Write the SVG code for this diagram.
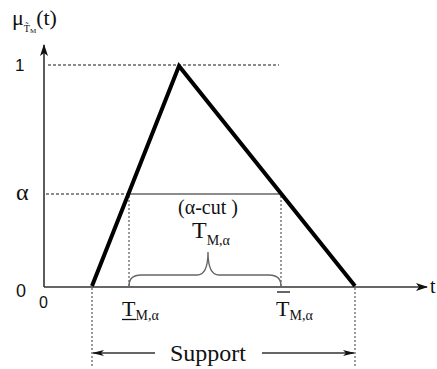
<svg xmlns="http://www.w3.org/2000/svg" width="437" height="369" viewBox="0 0 437 369">
<style>
.ax{stroke:#333;stroke-width:1.6;fill:none}
.dash{stroke:#666;stroke-width:1.5;stroke-dasharray:3,2;fill:none}
.dot{stroke:#666;stroke-width:1.3;stroke-dasharray:2,2;fill:none}
.thin{stroke:#666;stroke-width:1.4;fill:none}
.mf{stroke:#000;stroke-width:4;fill:none;stroke-linejoin:miter}
text{fill:#111}
</style>
<defs>
<marker id="ah" markerWidth="12" markerHeight="8" refX="11" refY="4" orient="auto" markerUnits="userSpaceOnUse">
<path d="M0,0 L12,4 L0,8 L3,4 Z" fill="#111"/>
</marker>
<marker id="ahs" markerWidth="12" markerHeight="6" refX="11" refY="3" orient="auto" markerUnits="userSpaceOnUse">
<path d="M0,0 L12,3 L0,6 L3,3 Z" fill="#111"/>
</marker>
</defs>
<g id="connectors">
<line class="ax" x1="44" y1="287" x2="44" y2="45" marker-end="url(#ah)"/>
<line class="ax" x1="44" y1="287" x2="427" y2="287" marker-end="url(#ah)"/>
<line class="dash" x1="48" y1="65" x2="279" y2="65"/>
<line class="dash" x1="46" y1="194" x2="128" y2="194"/>
<line class="thin" x1="128" y1="194" x2="281" y2="194"/>
<line class="dot" x1="129" y1="196" x2="129" y2="286"/>
<line class="dot" x1="281" y1="196" x2="281" y2="286"/>
<line class="dot" x1="92" y1="288" x2="92" y2="366"/>
<line class="dot" x1="355" y1="288" x2="355" y2="366"/>
<polyline class="mf" points="92,286 179,66 355,286"/>
<path class="thin" d="M129,286 Q129,275 141,275 L197,275 Q208,275 208,252 Q208,275 219,275 L269,275 Q281,275 281,286"/>
<line class="ax" x1="155" y1="353" x2="93" y2="353" marker-end="url(#ahs)"/>
<line class="ax" x1="262" y1="353" x2="354" y2="353" marker-end="url(#ahs)"/>
</g>
<g id="ylabel">
<text font-family="Liberation Serif, serif" x="12" y="25" font-size="22">μ<tspan font-size="10" dy="7">T̃</tspan><tspan font-size="7" dy="1">M</tspan><tspan font-size="22" dy="-8">(t)</tspan></text>
</g>
<g id="ticks">
<text font-family="Liberation Sans, sans-serif" x="15" y="71" font-size="17">1</text>
<text font-family="Liberation Serif, serif" x="16" y="200" font-size="24">α</text>
<text font-family="Liberation Sans, sans-serif" x="16" y="297" font-size="18">0</text>
<text font-family="Liberation Sans, sans-serif" x="39" y="308" font-size="16">0</text>
<text font-family="Liberation Serif, serif" x="430" y="293" font-size="20">t</text>
</g>
<g id="cut">
<text font-family="Liberation Serif, serif" x="208" y="214" font-size="20" text-anchor="middle">(α-cut )</text>
<text font-family="Liberation Serif, serif" x="192" y="238" font-size="24">T<tspan font-size="14" dy="7">M,α</tspan></text>
</g>
<g id="lower">
<text font-family="Liberation Serif, serif" x="122" y="316" font-size="22">T<tspan font-size="14" dy="4">M,α</tspan></text>
<line x1="122" y1="319.5" x2="136" y2="319.5" stroke="#111" stroke-width="1.3"/>
</g>
<g id="upper">
<text font-family="Liberation Serif, serif" x="276" y="316" font-size="22">T<tspan font-size="14" dy="4">M,α</tspan></text>
<line x1="277" y1="292" x2="290" y2="292" stroke="#111" stroke-width="1.3"/>
</g>
<g id="support">
<text font-family="Liberation Serif, serif" x="208" y="361" font-size="24" text-anchor="middle">Support</text>
</g>
</svg>
